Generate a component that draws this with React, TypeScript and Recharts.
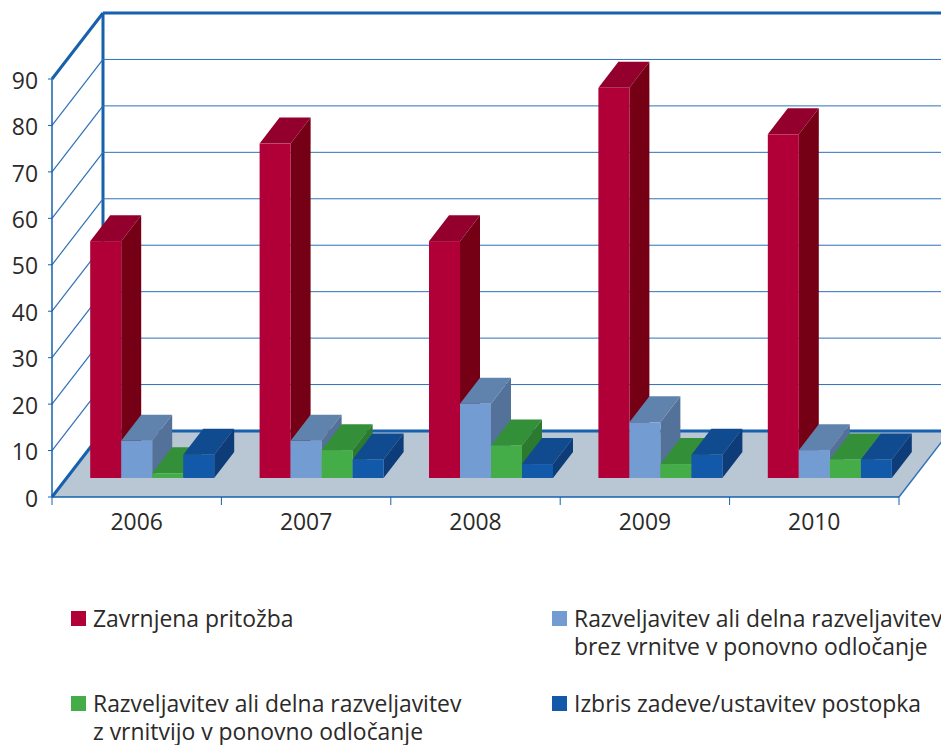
import React from 'react';
import { BarChart, Bar, XAxis, YAxis, CartesianGrid, Legend } from 'recharts';

const years = ['2006', '2007', '2008', '2009', '2010'];
const zavrnjena = [51, 72, 51, 84, 74];
const brezVrnitve = [8, 8, 16, 12, 6];
const zVrnitvijo = [1, 6, 7, 3, 4];
const izbris = [5, 4, 3, 5, 4];
const yTicks = [0, 10, 20, 30, 40, 50, 60, 70, 80, 90];

const seriesNames = [
  'Zavrnjena pritožba',
  'Razveljavitev ali delna razveljavitev\nbrez vrnitve v ponovno odločanje',
  'Razveljavitev ali delna razveljavitev\nz vrnitvijo v ponovno odločanje',
  'Izbris zadeve/ustavitev postopka',
];

const data = years.map((year, i) => ({
  year,
  zavrnjena: zavrnjena[i],
  brezVrnitve: brezVrnitve[i],
  zVrnitvijo: zVrnitvijo[i],
  izbris: izbris[i],
}));

const FONT = '"Open Sans", sans-serif';
const FONT_SIZE = 22.9;
const TEXT = '#2b2a29';
const BLUE = '#1660ae';
const GRID = '#2f70b8';
const FLOOR = '#b8c7d3';

// perspective of the fake 3D box
const DEPTH_X = 51;
const DEPTH_Y = 66;
// bars stand in the middle of the floor
const BAR_DX = 15.5;
const BAR_DY = 19;
const BAR_DEPTH_X = 20;
const BAR_DEPTH_Y = 26;

const CHART_W = 941;
const CHART_H = 745;
const M_LEFT = 52;
const M_RIGHT = 42;
const BAND = (CHART_W - M_LEFT - M_RIGHT) / years.length;

const make3d = (front: string, top: string, side: string) => (props: any) => {
  const { x, y, width, height } = props;
  const l = x + BAR_DX;
  const t = y - BAR_DY;
  const r = l + width;
  const b = t + height;
  const dx = BAR_DEPTH_X;
  const dy = BAR_DEPTH_Y;
  return (
    <g>
      <polygon points={`${l},${t} ${r},${t} ${r + dx},${t - dy} ${l + dx},${t - dy}`} fill={top} />
      <polygon points={`${r},${t} ${r + dx},${t - dy} ${r + dx},${b - dy} ${r},${b}`} fill={side} />
      <rect x={l} y={t} width={width} height={height} fill={front} />
    </g>
  );
};

// every y tick gets a line along the back wall and a diagonal on the side wall
const wallLine = (props: any) => {
  const { x1, x2, y1, index } = props;
  const y = y1;
  const isFloor = y > 490;
  const isTop = y < 85;
  const backY = y - DEPTH_Y;
  const lx = x1 + DEPTH_X;
  const rx = x2 + DEPTH_X;
  if (isFloor) {
    return (
      <g key={`wall-${index}`}>
        <polygon points={`${x1},${y} ${x2},${y} ${rx},${backY} ${lx},${backY}`} fill={FLOOR} />
        <line x1={x2} y1={y} x2={rx} y2={backY} stroke={GRID} strokeWidth={1.5} />
        <line x1={lx} y1={backY} x2={rx} y2={backY} stroke={BLUE} strokeWidth={3} />
        <line x1={lx} y1={backY} x2={lx} y2={backY - 418} stroke={BLUE} strokeWidth={3} />
        <line x1={x1} y1={y} x2={lx} y2={backY} stroke={BLUE} strokeWidth={3} />
      </g>
    );
  }
  const w = isTop ? 3 : 1;
  const color = isTop ? BLUE : GRID;
  return (
    <g key={`wall-${index}`}>
      <line x1={x1} y1={y} x2={lx} y2={backY} stroke={color} strokeWidth={isTop ? 3 : 1.2} />
      <line x1={lx} y1={backY} x2={rx} y2={backY} stroke={color} strokeWidth={w} />
    </g>
  );
};

const YearTick = (props: any) => {
  const { x, y, payload, index } = props;
  const left = x - BAND / 2;
  return (
    <g>
      <line x1={left} y1={y - 8} x2={left} y2={y} stroke={BLUE} strokeWidth={1} />
      {index === years.length - 1 && (
        <line x1={left + BAND} y1={y - 8} x2={left + BAND} y2={y} stroke={BLUE} strokeWidth={1} />
      )}
      <text x={x} y={y + 25} textAnchor="middle" fontFamily={FONT} fontSize={FONT_SIZE} fill={TEXT}>
        {payload.value}
      </text>
    </g>
  );
};

const legendSlots = [
  { left: 71, top: 605, textLeft: 93 },
  { left: 552, top: 605, textLeft: 574 },
  { left: 71, top: 690, textLeft: 93 },
  { left: 552, top: 690, textLeft: 574 },
];

const renderLegend = (props: any) => {
  const { payload } = props;
  return (
    <div>
      {payload.map((entry: any, i: number) => {
        const slot = legendSlots[i];
        return (
          <div key={entry.value}>
            <span
              style={{
                position: 'absolute',
                left: slot.left,
                top: slot.top + 6,
                width: 15,
                height: 15,
                background: entry.color,
              }}
            />
            <span
              style={{
                position: 'absolute',
                left: slot.textLeft,
                top: slot.top,
                whiteSpace: 'pre',
                fontFamily: FONT,
                fontSize: FONT_SIZE,
                lineHeight: '27.5px',
                color: TEXT,
              }}
            >
              {entry.value}
            </span>
          </div>
        );
      })}
    </div>
  );
};

export default function App() {
  return (
    <div style={{ position: 'absolute', left: 0, top: 0, width: CHART_W, height: CHART_H, overflow: 'hidden' }}>
      <BarChart
        width={CHART_W}
        height={CHART_H}
        data={data}
        margin={{ top: 79, right: M_RIGHT, bottom: 0, left: 0 }}
        barCategoryGap="13.4%"
        barGap={0}
      >
        <CartesianGrid vertical={false} horizontal={wallLine} />
        <XAxis
          dataKey="year"
          height={248}
          axisLine={{ stroke: BLUE, strokeWidth: 1.5 }}
          tickLine={false}
          tick={<YearTick />}
          interval={0}
        />
        <YAxis
          width={M_LEFT}
          domain={[0, 90]}
          ticks={yTicks}
          interval={0}
          axisLine={{ stroke: BLUE, strokeWidth: 1.5 }}
          tickLine={{ stroke: BLUE, strokeWidth: 1 }}
          tickSize={4}
          tickMargin={10}
          tick={{ fontFamily: FONT, fontSize: FONT_SIZE, fill: TEXT, dy: 1.5 }}
        />
        <Legend
          content={renderLegend}
          itemSorter={null}
          wrapperStyle={{ position: 'absolute', left: 0, top: 0, width: 0, height: 0 }}
        />
        <Bar
          dataKey="zavrnjena"
          name={seriesNames[0]}
          fill="#b10037"
          isAnimationActive={false}
          shape={make3d('#b10037', '#93002d', '#750016')}
        />
        <Bar
          dataKey="brezVrnitve"
          name={seriesNames[1]}
          fill="#739dd2"
          isAnimationActive={false}
          shape={make3d('#739dd2', '#6083ae', '#547199')}
        />
        <Bar
          dataKey="zVrnitvijo"
          name={seriesNames[2]}
          fill="#45ad47"
          isAnimationActive={false}
          shape={make3d('#45ad47', '#339038', '#2b7a30')}
        />
        <Bar
          dataKey="izbris"
          name={seriesNames[3]}
          fill="#125aa9"
          isAnimationActive={false}
          shape={make3d('#125aa9', '#114b8f', '#0d3c78')}
        />
      </BarChart>
    </div>
  );
}
